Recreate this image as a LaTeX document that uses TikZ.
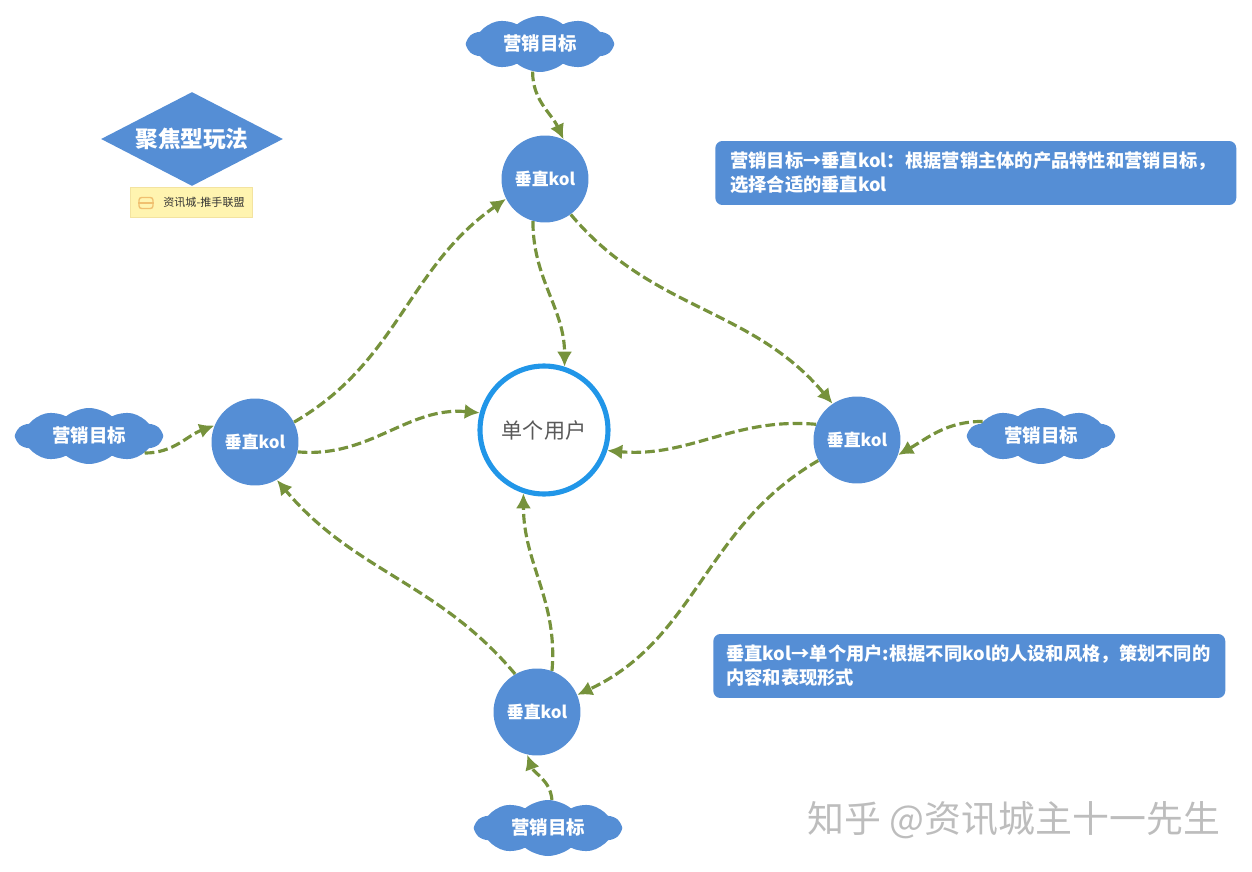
\documentclass[tikz,border=0pt]{standalone}
\usepackage{xcolor}
\usepackage{fontspec}
\setmainfont{Noto Sans CJK SC}
\usetikzlibrary{arrows.meta,shapes.geometric,shapes.symbols}
\definecolor{kolblue}{HTML}{558ED5}
\definecolor{userblue}{HTML}{2196E8}
\definecolor{flowolive}{HTML}{76923C}
\definecolor{noteyellow}{HTML}{FFF4B0}
\definecolor{noteline}{HTML}{F3E3A0}
\definecolor{iconorange}{HTML}{F0C070}
\definecolor{usergray}{HTML}{595959}
\definecolor{markgray}{HTML}{BDBDBD}
\newcommand{\goaltext}{\raisebox{1.1pt}{营销目标}}

\begin{document}
\begin{tikzpicture}[
  x=0.02cm,y=-0.02cm,
  kol/.style={circle,fill=kolblue,text=white,inner sep=0pt,minimum size=1.74cm,
    font=\fontsize{9.6}{12}\selectfont\bfseries},
  goal/.style={cloud,cloud puffs=10,cloud puff arc=80,aspect=2.6,fill=kolblue,text=white,
    inner sep=0pt,minimum width=2.92cm,minimum height=1.12cm,
    font=\fontsize{10.5}{12}\selectfont\bfseries},
  info/.style={rectangle,rounded corners=4pt,fill=kolblue,text=white,align=left,
    anchor=west,inner sep=0pt,minimum height=1.28cm,
    font=\fontsize{10.4}{13.7}\selectfont\bfseries},
  flow/.style={-{Latex[length=3mm,width=3mm]},line width=1.8pt,draw=flowolive,
    dash pattern=on 5.5pt off 2.3pt}
]
\useasboundingbox (0,0) rectangle (1252,872);
% title and tag
\node[diamond,fill=kolblue,text=white,inner sep=0pt,minimum width=3.64cm,minimum height=1.88cm,
  aspect=1.94,font=\fontsize{12.9}{14}\selectfont\bfseries] (title) at (192,139) {聚焦型玩法};
\node[rectangle,fill=noteyellow,draw=noteline,minimum width=2.44cm,minimum height=0.6cm] (tag) at (191.5,202.5) {};
\node[font=\fontsize{6.3}{7}\selectfont,text=black!80,inner sep=0pt] (tagtext) at (204,202.5) {资讯城-推手联盟};
\node[rectangle,rounded corners=1.5pt,draw=iconorange,thick,minimum width=0.28cm,minimum height=0.22cm,
  inner sep=0pt] (tagicon) at (146,203) {};
\draw[iconorange,thick] (tagicon.west) -- (tagicon.east);

% center and four kols
\node[circle,draw=userblue,line width=2.9pt,fill=white,text=usergray,inner sep=0pt,minimum size=2.56cm,
  font=\fontsize{12}{14}\selectfont] (user) at (544,430) {单个用户};
\node[kol] (kolT) at (545,179) {垂直kol};
\node[kol] (kolL) at (255,442) {垂直kol};
\node[kol] (kolR) at (857,440) {垂直kol};
\node[kol] (kolB) at (537,712) {垂直kol};

% marketing goals
\node[goal] (goalT) at (540,44) {\goaltext};
\node[goal] (goalL) at (89,436) {\goaltext};
\node[goal] (goalR) at (1041,436) {\goaltext};
\node[goal] (goalB) at (548,828) {\goaltext};

% goal to kol
\draw[flow] (goalT.-105) to[out=-90,in=115] (kolT.65);
\draw[flow] (goalL.-17) to[out=0,in=200] (kolL.158);
\draw[flow] (goalR.166) to[out=180,in=30] (kolR.-20);
\draw[flow] (goalB.82) to[out=95,in=-70] (kolB.-103);
% kol to kol
\draw[flow] (kolT.-54) to[out=-50,in=130] (kolR.124);
\draw[flow] (kolR.-152) to[out=-150,in=25] (kolB.23);
\draw[flow] (kolB.120) to[out=130,in=-50] (kolL.-60);
\draw[flow] (kolL.27) to[out=30,in=215] (kolT.-153);
% kol to user
\draw[flow] (kolT.-106) to[out=-90,in=90] (user.72);
\draw[flow] (kolL.-13) to[out=-5,in=175] (user.165);
\draw[flow] (kolR.159) to[out=175,in=-5] (user.-18);
\draw[flow] (kolB.70) to[out=85,in=-90] (user.-108);

% notes
\node[info,minimum width=10.42cm,text width=9.82cm] (noteA) at (715,173)
  {营销目标→垂直kol：根据营销主体的产品特性和营销目标，\\选择合适的垂直kol};
\node[info,minimum width=10.24cm,text width=9.72cm] (noteB) at (713,666)
  {垂直kol→单个用户:根据不同kol的人设和风格，策划不同的\\内容和表现形式};

% watermark
\node[text=markgray,font=\fontsize{21}{24}\selectfont,inner sep=0pt] (mark) at (1014,820) {知乎 @资讯城主十一先生};
\end{tikzpicture}
\end{document}
